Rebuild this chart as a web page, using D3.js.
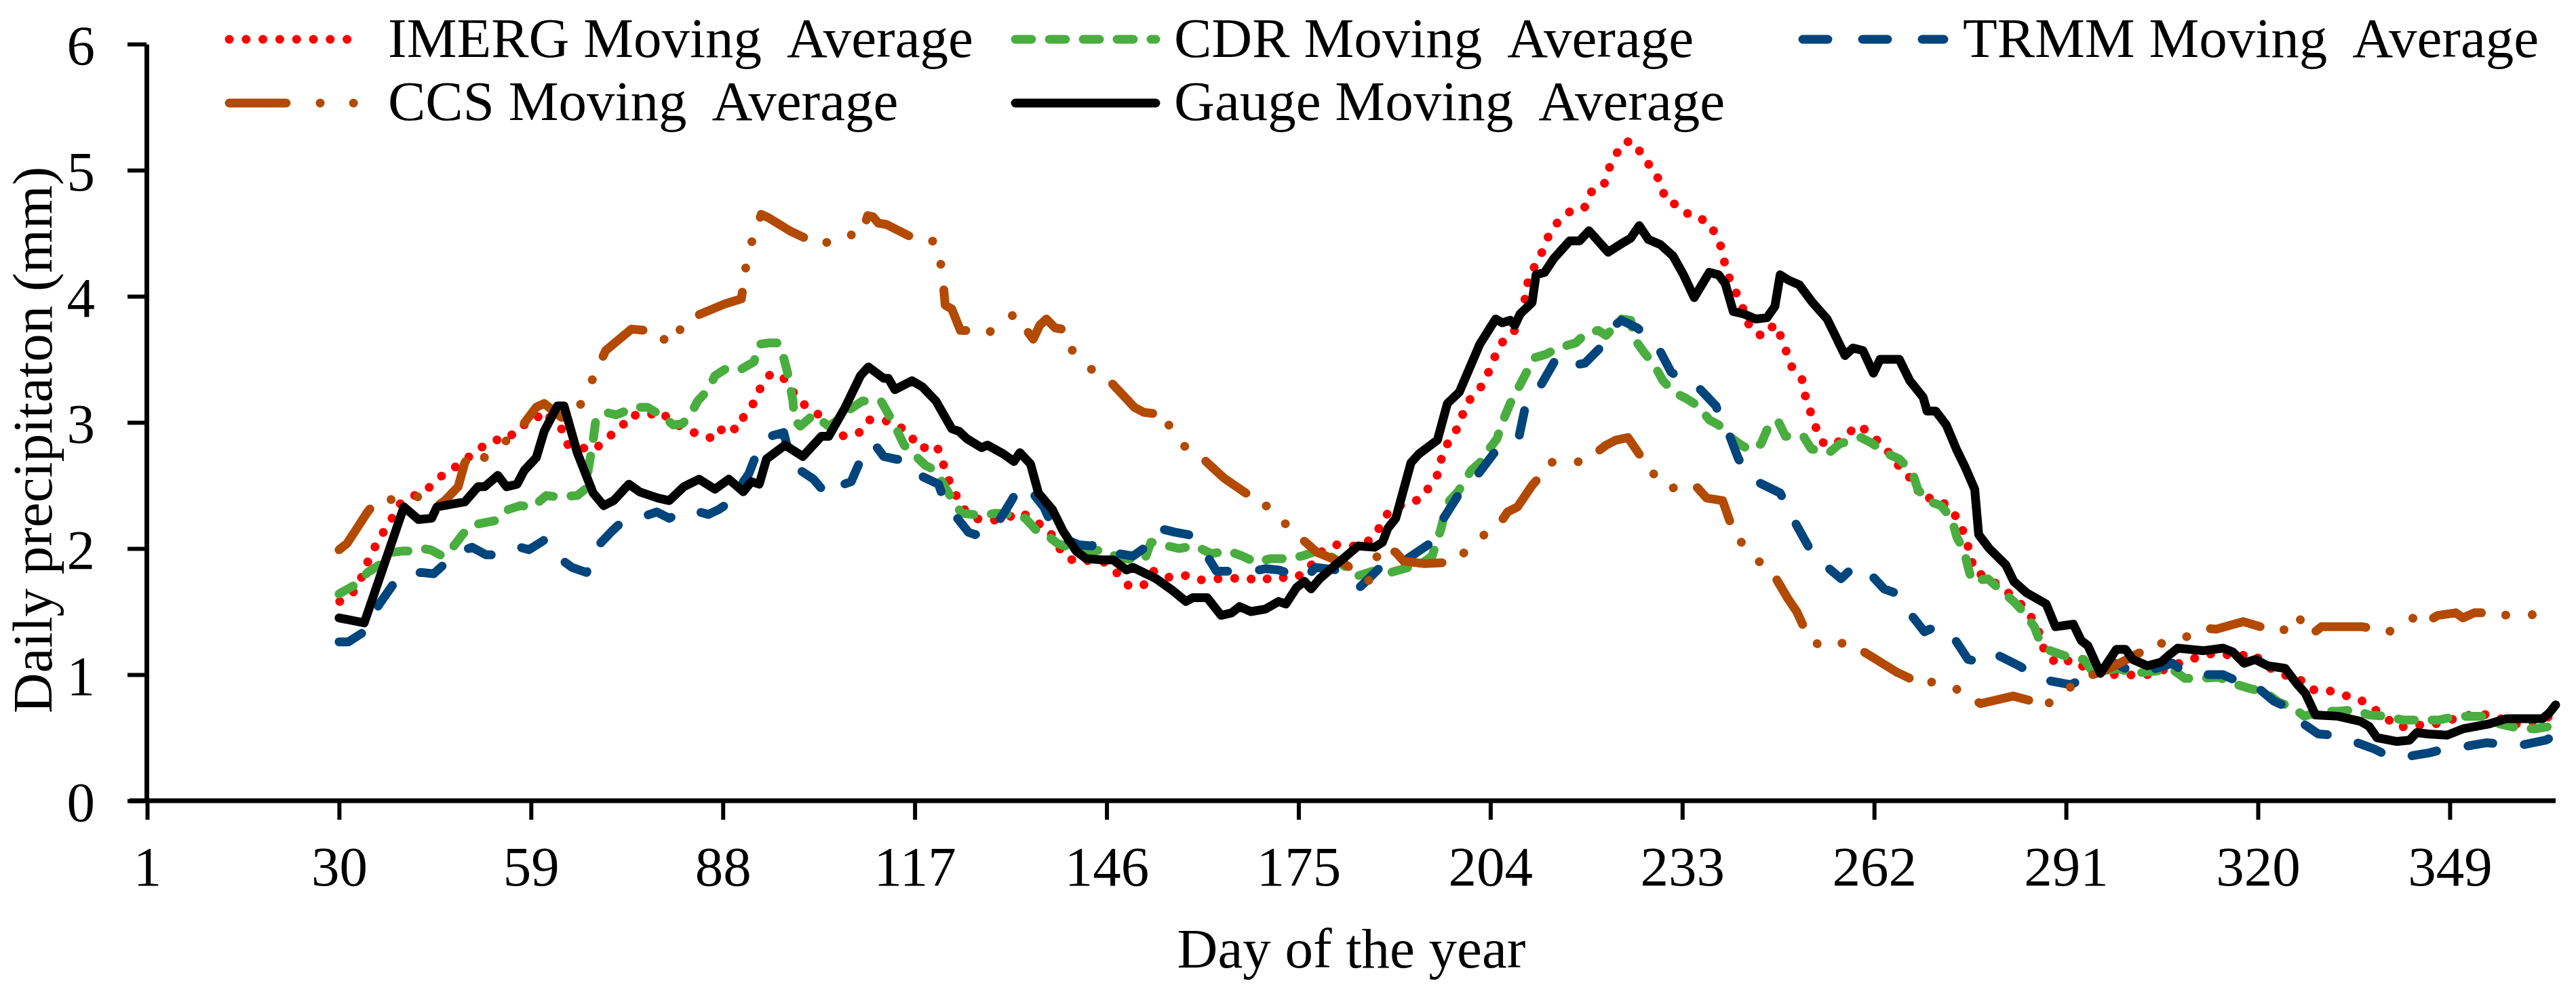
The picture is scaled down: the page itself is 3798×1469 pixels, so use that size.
<!DOCTYPE html>
<html>
<head>
<meta charset="utf-8">
<script src="https://cdn.jsdelivr.net/npm/d3@7"></script>
<style>
  body { margin: 0; background: #fff; }
  svg { display: block; }
  text { font-family: "Liberation Serif", "Times New Roman", serif; fill: #000; }
</style>
</head>
<body>
<script>
// data: [day of year, daily precipitation (mm)]
var imerg = [[30.1,1.58],[32.1,1.65],[33.3,1.76],[34.3,1.89],[35.4,2.01],[36.7,2.13],[38,2.24],[39.3,2.36],[41.4,2.42],[43.8,2.49],[45.6,2.58],[47.4,2.64],[49,2.70],[51.1,2.79],[53.5,2.86],[55.6,2.87],[57.2,2.97],[59.3,3.00],[60.9,3.09],[63.6,2.95],[64.6,2.82],[68.6,2.78],[70.3,2.87],[72.5,2.95],[74,3.06],[76.4,3.05],[78.6,3.09],[80.3,3.00],[82.7,2.94],[85,2.89],[87,2.87],[88.2,2.98],[90.1,2.94],[91.3,3.06],[92.9,3.17],[93.8,3.29],[95.3,3.39],[97.2,3.35],[99.7,3.16],[101.7,3.10],[104,2.98],[106.3,2.89],[108.6,2.92],[110.1,3.02],[112.3,3.02],[114.2,2.98],[116.2,2.92],[117.4,2.80],[118.8,2.80],[120.3,2.82],[121.2,2.69],[122,2.56],[123.1,2.44],[124.1,2.33],[125.9,2.24],[128.4,2.22],[130.8,2.24],[133.1,2.29],[134.9,2.22],[137.1,2.16],[139.6,1.94],[141.6,1.89],[143.9,1.91],[145.7,1.89],[147.7,1.80],[149.4,1.70],[151.6,1.71],[153.1,1.82],[155.1,1.77],[157.6,1.79],[160,1.75],[162,1.76],[164.3,1.76],[166.9,1.77],[169.2,1.74],[171.4,1.78],[173.7,1.76],[175.9,1.80],[178.6,1.98],[180.8,2.03],[182.4,2.02],[184.5,2.02],[186.6,2.10],[187.7,2.22],[188.9,2.31],[191.3,2.36],[193.4,2.39],[194.8,2.49],[196.2,2.60],[196.7,2.74],[197.7,2.85],[199.1,2.96],[200,3.09],[201.1,3.20],[202.9,3.30],[203.9,3.42],[204.9,3.55],[206.2,3.67],[207.7,3.73],[209.3,3.99],[209.7,4.12],[210.7,4.24],[211.8,4.35],[212.8,4.48],[214.2,4.59],[216.2,4.68],[218.2,4.70],[219.3,4.83],[221.1,4.87],[221.8,5.00],[222.9,5.12],[224.4,5.23],[226.1,5.21],[227,5.09],[228.9,5.00],[229.7,4.88],[230.7,4.75],[232.6,4.72],[234.3,4.63],[236.7,4.60],[238.1,4.49],[239.1,4.36],[239.5,4.23],[240.3,4.12],[241.5,3.99],[242.5,3.86],[243.3,3.74],[245.2,3.68],[247,3.78],[248,3.67],[248.8,3.55],[249.7,3.42],[251.1,3.34],[251.6,3.21],[252.4,3.08],[253.2,2.96],[254.3,2.84],[256,2.82],[257.8,2.90],[259.6,2.98],[261.5,2.91],[263.3,2.81],[265,2.72],[266.2,2.61],[268.2,2.53],[269,2.40],[271.5,2.40],[273.5,2.32],[274.9,2.21],[275.8,2.09],[276.5,1.96],[277.1,1.82],[279.1,1.77],[281,1.70],[283.2,1.61],[284.9,1.52],[286.2,1.42],[287.2,1.30],[287.8,1.17],[289.8,1.08],[291.9,1.12],[294,1.05],[296.8,1.00],[300.3,1.00],[302.6,0.99],[305.4,1.03],[307.5,1.08],[309.9,1.12],[312,1.16],[314.5,1.17],[316.6,1.14],[319.2,1.17],[321.3,1.07],[323.5,1.00],[326,0.98],[328,0.88],[330.3,0.88],[332.7,0.84],[335.2,0.81],[337.2,0.74],[339.1,0.67],[341.2,0.58],[343.5,0.60],[346.1,0.60],[348.4,0.63],[351,0.67],[353.5,0.69],[356,0.67],[358.2,0.61],[360.7,0.61],[363.3,0.67],[365,0.65]];

var cdr = [[30,1.64],[32.7,1.72],[34.3,1.81],[36.1,1.87],[38,1.97],[39.6,1.98],[40.9,1.98],[42.5,2.00],[43.8,1.99],[45.6,1.94],[47.2,2.01],[48.8,2.12],[50.6,2.19],[53.5,2.22],[55.6,2.31],[57.4,2.34],[59.3,2.33],[61.3,2.42],[62.9,2.41],[66,2.42],[67.2,2.47],[67.8,2.67],[68.3,2.82],[68.8,3.02],[70.3,3.08],[71.9,3.06],[73.3,3.09],[74.6,3.12],[76.6,3.12],[78.9,3.05],[80.5,2.98],[81.9,2.99],[83.1,3.06],[84.2,3.17],[85.8,3.26],[86.8,3.37],[88.6,3.43],[90.7,3.42],[92.7,3.48],[93.5,3.62],[95,3.63],[96.4,3.63],[97,3.55],[97.8,3.39],[98.6,3.17],[98.8,3.02],[99.7,2.97],[101.7,3.06],[104,2.97],[105.4,3.02],[106.8,3.09],[109.1,3.17],[111.9,3.17],[113.3,3.04],[114.4,2.93],[115.4,2.82],[117.2,2.73],[118.6,2.66],[120.1,2.62],[121.8,2.47],[123,2.36],[124.1,2.28],[127.3,2.26],[129.2,2.28],[132,2.27],[133.7,2.24],[135.3,2.15],[137.1,2.10],[138.6,2.04],[140.2,2.01],[142.9,1.97],[145.3,1.99],[147.7,1.93],[150,1.91],[151.8,1.92],[152.7,2.05],[155.3,2.02],[156.9,2.00],[159.4,2.02],[161.8,1.96],[164.5,1.98],[166.5,1.94],[168.6,1.89],[170.8,1.92],[173.3,1.92],[175.5,1.94],[177.8,1.98],[179.8,1.94],[181,1.90],[183.8,1.78],[186.2,1.82],[188.9,1.81],[191.6,1.85],[193.6,1.88],[195.2,1.94],[196.5,2.15],[197.5,2.36],[199.1,2.45],[201.1,2.62],[202.4,2.68],[203.4,2.76],[205,2.87],[205.8,3.00],[207,3.15],[208.1,3.26],[209.3,3.38],[210.5,3.51],[212.4,3.54],[214.2,3.59],[216.9,3.63],[218.3,3.70],[220.3,3.73],[221.5,3.69],[223.8,3.82],[225.2,3.81],[225.8,3.66],[227.3,3.55],[228.7,3.46],[230.1,3.33],[231.7,3.24],[233.6,3.19],[235.4,3.13],[237.1,3.02],[238.5,2.98],[240.1,2.89],[241.9,2.82],[243.3,2.78],[244.9,2.83],[245.8,2.94],[247.4,3.02],[248.6,2.89],[251.3,2.89],[252.5,2.79],[255.2,2.76],[256.8,2.83],[260,2.88],[261.5,2.84],[264.1,2.75],[265.8,2.71],[267.8,2.60],[268.6,2.47],[270,2.38],[272.1,2.34],[273.7,2.24],[274.5,2.09],[275.6,1.98],[276.2,1.85],[276.8,1.74],[279.2,1.76],[281.1,1.67],[283.1,1.58],[284.7,1.49],[286.2,1.38],[287,1.27],[288.6,1.19],[291.3,1.14],[293.7,1.12],[295.2,1.01],[298.8,1.05],[301.1,1.01],[305,1.03],[307.1,1.04],[309,0.97],[311.3,0.97],[314.1,0.98],[316.2,0.93],[318.8,0.89],[321.1,0.86],[323.2,0.78],[325.3,0.74],[327,0.67],[329.6,0.71],[332.1,0.71],[334.6,0.72],[336.8,0.68],[339.3,0.67],[341.9,0.64],[344.4,0.64],[347.4,0.64],[349.9,0.67],[352,0.67],[354.1,0.67],[356.5,0.61],[359,0.58],[361.8,0.57],[364.3,0.59],[365,0.59]];

var trmm = [[30,1.26],[31.4,1.26],[33.5,1.33],[36.1,1.56],[38.5,1.74],[40.5,1.80],[42.5,1.81],[44.3,1.80],[46.4,1.90],[48.5,1.98],[50.1,2.01],[52.2,1.95],[54.3,1.95],[56,1.97],[57.4,2.01],[58.7,1.99],[60.5,2.05],[61.1,2.07],[63.4,1.92],[65.2,1.85],[67.4,1.81],[69.3,2.03],[71.1,2.13],[72.5,2.20],[74,2.23],[75.8,2.25],[78,2.29],[79.9,2.24],[81.5,2.28],[83.1,2.31],[85.8,2.27],[87.4,2.31],[89.9,2.40],[91.1,2.53],[91.9,2.59],[93.7,2.83],[95.2,2.89],[97.2,2.92],[98.4,2.67],[99.7,2.62],[101.7,2.55],[103,2.47],[104.2,2.42],[105.2,2.49],[107.4,2.53],[109.3,2.76],[110.9,2.83],[112.3,2.73],[114,2.71],[115.4,2.70],[117.8,2.58],[120.6,2.51],[121.6,2.36],[122.4,2.31],[125.1,2.13],[126.1,2.11],[128.8,2.14],[131.4,2.36],[132.6,2.47],[133.9,2.50],[136.5,2.33],[137.8,2.18],[139.5,2.08],[141.8,2.03],[143.7,2.02],[144.7,2.05],[147.7,1.96],[150,1.94],[151.6,2.00],[153.9,2.16],[156.3,2.13],[158.4,2.11],[161.2,1.94],[162.6,1.82],[163.7,1.82],[166,1.82],[168.2,1.82],[170,1.84],[172,1.83],[174.9,1.78],[175.9,1.76],[177.6,1.85],[180.7,1.83],[182.2,1.76],[184.2,1.69],[186,1.78],[187.5,1.86],[189.7,1.87],[191.5,1.92],[194.6,2.03],[196.2,2.13],[196.7,2.22],[199.1,2.42],[200.5,2.51],[202,2.58],[204.6,2.76],[206.2,2.82],[208.3,2.88],[209.3,3.13],[210.5,3.22],[211.8,3.31],[214.2,3.53],[215.8,3.51],[217.3,3.46],[218.3,3.47],[221.5,3.64],[222.8,3.77],[223.8,3.81],[226.2,3.75],[227.7,3.68],[229.3,3.60],[231.3,3.40],[233.2,3.33],[235.2,3.29],[238.1,3.13],[239.1,2.98],[239.9,2.93],[241.5,2.71],[242.9,2.60],[244.3,2.53],[247.8,2.44],[249.4,2.27],[251.7,2.05],[252.9,1.94],[254.1,1.89],[257,1.76],[258.4,1.83],[260.3,1.86],[263.5,1.68],[265.1,1.65],[266.6,1.54],[269.6,1.34],[271.3,1.38],[273.7,1.32],[276.2,1.12],[278.2,1.10],[280.1,1.17],[283.9,1.07],[285.8,1.01],[287.6,0.96],[291.7,0.92],[293.3,0.96],[294.7,0.96],[298.4,1.09],[300.7,1.03],[302.3,1.01],[307.1,1.09],[308.8,1.02],[310.3,1.00],[314.7,1.00],[316.4,0.96],[319,0.94],[322.4,0.79],[324.1,0.75],[325.5,0.66],[329.1,0.53],[331.3,0.52],[333.4,0.49],[337.6,0.41],[339.5,0.36],[341.4,0.34],[345.9,0.38],[348.2,0.41],[350.1,0.42],[354.6,0.46],[356.7,0.45],[358.8,0.43],[363.5,0.48],[365,0.52]];

var ccs = [[30,1.99],[31.2,2.04],[32.7,2.16],[34.3,2.29],[35.4,2.36],[35.9,2.36],[38,2.39],[40.2,2.41],[41.5,2.42],[43,2.38],[44.6,2.33],[46,2.38],[48,2.49],[49,2.68],[50.1,2.76],[51.9,2.72],[53.8,2.79],[57.2,2.94],[59.8,3.12],[61,3.15],[63.6,3.04],[64.8,3.04],[66.2,3.11],[68.2,3.33],[70.3,3.57],[74.2,3.74],[78,3.72],[80,3.61],[81.1,3.71],[82.3,3.78],[83.3,3.79],[84.2,3.85],[88.3,3.94],[90.8,3.98],[91.5,4.24],[91.9,4.37],[92.9,4.50],[93.8,4.65],[95,4.62],[98.1,4.52],[102.1,4.42],[106.6,4.44],[108,4.52],[109.1,4.51],[109.9,4.64],[110.7,4.63],[111.5,4.58],[112.7,4.57],[116.5,4.47],[120.4,4.43],[121.2,4.17],[121.6,3.93],[122.6,3.90],[123.9,3.73],[128.4,3.72],[132.1,3.86],[134.9,3.66],[135.9,3.77],[136.9,3.82],[138.2,3.75],[139.2,3.74],[140,3.62],[142.9,3.45],[146.8,3.31],[150.2,3.12],[151.6,3.08],[153.1,3.07],[154.1,3.09],[155.3,2.99],[156.7,2.85],[160.6,2.71],[163.7,2.56],[167.3,2.43],[168.8,2.36],[171.2,2.32],[172,2.25],[173.9,2.15],[177.8,1.97],[181.9,1.88],[185.8,1.74],[186.4,1.89],[187.7,2.02],[189.7,1.97],[190.9,1.90],[194,1.88],[197.8,1.89],[201.6,2.02],[203.4,2.13],[205.2,2.18],[206.6,2.29],[208.1,2.33],[210.3,2.50],[213.6,2.70],[216.4,2.70],[217.9,2.68],[219.5,2.74],[221.5,2.82],[223,2.86],[224.8,2.88],[227.5,2.67],[230.5,2.47],[234.8,2.51],[236.7,2.40],[239.1,2.38],[240.3,2.20],[242.9,1.96],[246.4,1.83],[249,1.60],[250.3,1.50],[251.7,1.34],[252.9,1.27],[254.1,1.21],[258,1.26],[262,1.13],[265.4,1.02],[267.8,0.96],[270.2,0.92],[270.9,0.95],[272.5,0.91],[274.3,0.89],[278.1,0.77],[283,0.83],[286.6,0.78],[288,0.74],[289,0.82],[290.5,0.85],[292.1,0.92],[294.1,0.98],[298,1.06],[302,1.17],[305,1.25],[307.1,1.24],[309.2,1.30],[311.8,1.37],[313.7,1.36],[317.8,1.42],[322.3,1.35],[324.9,1.36],[326,1.47],[327.9,1.31],[329.6,1.38],[331,1.38],[335.7,1.38],[340.5,1.34],[344.6,1.49],[345.9,1.43],[347.2,1.47],[349.9,1.49],[351,1.45],[352.7,1.49],[355.6,1.49],[359.7,1.45],[363.9,1.51],[365,1.52]];

var gauge = [[30,1.45],[33.8,1.41],[39.8,2.33],[42,2.23],[44,2.24],[44.8,2.33],[49,2.37],[51,2.49],[52,2.49],[54,2.58],[55.3,2.49],[56.9,2.51],[58,2.62],[59.8,2.72],[61,2.93],[63,3.13],[64,3.13],[66,2.76],[68.4,2.44],[70,2.34],[71.5,2.38],[73.8,2.51],[75.4,2.45],[78.2,2.40],[79.9,2.38],[82.1,2.49],[84.4,2.55],[86.8,2.47],[88.9,2.55],[91.1,2.45],[92.3,2.53],[93.5,2.51],[94.6,2.71],[97.4,2.82],[100.1,2.73],[102.9,2.89],[104,2.89],[106.4,3.11],[108.8,3.37],[110,3.44],[112.3,3.35],[113,3.35],[114,3.26],[116.6,3.33],[118.2,3.28],[120.2,3.17],[122.6,2.95],[123.7,2.93],[124.9,2.87],[127.1,2.80],[128,2.82],[130.4,2.75],[132,2.69],[132.9,2.76],[134.5,2.67],[135.7,2.44],[137.8,2.31],[139.4,2.14],[141.4,1.98],[142.9,1.92],[145.3,1.91],[147,1.91],[149,1.83],[150,1.85],[153.5,1.76],[155.9,1.67],[158,1.58],[159,1.61],[161.2,1.61],[163.3,1.47],[164.9,1.49],[166.1,1.54],[167.8,1.50],[170,1.52],[172,1.58],[173.1,1.56],[174.7,1.69],[175.9,1.74],[176.9,1.68],[178.2,1.76],[180.6,1.87],[182.2,1.94],[184,2.02],[186.5,2.01],[187.7,2.05],[188.5,2.16],[189.7,2.24],[192,2.68],[193.2,2.75],[196,2.86],[197.5,3.15],[199.3,3.24],[202.4,3.62],[204.8,3.82],[205.8,3.79],[207,3.81],[207.7,3.77],[208.5,3.86],[210.3,3.95],[210.9,4.17],[212.2,4.19],[213.6,4.30],[216,4.44],[217.5,4.44],[218.9,4.52],[221.8,4.35],[224.2,4.43],[225.2,4.46],[226.5,4.56],[227.9,4.45],[229.7,4.41],[231.6,4.32],[233.2,4.17],[234.8,3.99],[237.1,4.19],[238.5,4.17],[239.5,4.10],[240.7,3.88],[242.3,3.86],[244.1,3.82],[245.8,3.83],[247,3.92],[247.8,4.17],[249,4.13],[250.7,4.09],[252.7,3.95],[254.9,3.82],[257.6,3.53],[258.8,3.59],[260.3,3.57],[261.9,3.39],[262.9,3.50],[265.8,3.50],[267.4,3.33],[269.4,3.20],[270,3.09],[271.3,3.09],[272.9,2.98],[274.5,2.78],[275.8,2.64],[277.2,2.47],[277.8,2.11],[279.4,2.00],[281.9,1.87],[283.1,1.74],[285,1.65],[288,1.56],[289.4,1.38],[292.1,1.40],[293.3,1.27],[294.3,1.23],[296.2,1.01],[298.6,1.20],[300,1.20],[301.1,1.12],[303.3,1.07],[305.4,1.10],[306.7,1.16],[307.9,1.21],[311.8,1.19],[314.7,1.21],[316.2,1.18],[317.9,1.09],[319.6,1.12],[321.5,1.07],[324.1,1.05],[326,0.92],[327.2,0.85],[328.7,0.68],[332.1,0.67],[335.5,0.63],[336.8,0.59],[338,0.50],[341,0.47],[342.9,0.48],[344,0.54],[345.7,0.53],[348.6,0.52],[351,0.57],[355,0.61],[357.5,0.65],[363,0.65],[364.1,0.70],[365,0.76]];

var xTicks = [1, 30, 59, 88, 117, 146, 175, 204, 233, 262, 291, 320, 349];
var yTicks = [0, 1, 2, 3, 4, 5, 6];

var width = 3798, height = 1469;
var plotLeft = 217, plotRight = 3768, plotTop = 65, plotBottom = 1181;

var svg = d3.select("body").append("svg")
    .attr("width", width)
    .attr("height", height);

var x = d3.scaleLinear().domain([1, 365]).range([plotLeft, plotRight]);
var y = d3.scaleLinear().domain([0, 6]).range([plotBottom, plotTop]);

// axes
var xAxis = svg.append("g")
    .attr("transform", "translate(0," + plotBottom + ")")
    .call(d3.axisBottom(x).tickValues(xTicks).tickSize(28).tickSizeOuter(0).tickFormat(d3.format("d")));
xAxis.selectAll("text").attr("y", 125).attr("dy", null);

var yAxis = svg.append("g")
    .attr("transform", "translate(" + (plotLeft - 1) + ",0)")
    .call(d3.axisLeft(y).tickValues(yTicks).tickSize(28).tickSizeOuter(0).tickFormat(d3.format("d")));
yAxis.selectAll("text").attr("x", -76).attr("dy", "0.35em");

svg.selectAll(".domain").attr("stroke", "#000").attr("stroke-width", 7);
svg.selectAll(".tick line").attr("stroke", "#000").attr("stroke-width", 6);
svg.selectAll(".tick text").style("font-size", "83px").style("font-family", "Liberation Serif, serif").attr("fill", "#000");
xAxis.select(".domain").attr("d", "M" + (plotLeft - 26) + ",0H" + plotRight);

// series
var series = [
  {name: "IMERG Moving  Average", data: imerg, color: "#ff0000", dash: "0.1 24.5", legendDash: "0.1 24.7"},
  {name: "CDR Moving  Average", data: cdr, color: "#4aad3f", dash: "24 26", legendDash: "24 26"},
  {name: "TRMM Moving  Average", data: trmm, color: "#00457c", dash: "37 47", legendDash: "37 51"},
  {name: "CCS Moving  Average", data: ccs, color: "#b34a02", dash: "76 36 0.1 40 0.1 38", legendDash: "84 50 0.1 49 0.1 200"},
  {name: "Gauge Moving  Average", data: gauge, color: "#000000", dash: null, legendDash: null}
];

var line = d3.line()
    .x(function(d) { return x(d[0]); })
    .y(function(d) { return y(d[1]); });

svg.selectAll(".series")
    .data(series)
  .enter().append("path")
    .attr("class", "series")
    .attr("d", function(d) { return line(d.data); })
    .attr("fill", "none")
    .attr("stroke", function(d) { return d.color; })
    .attr("stroke-width", 13)
    .attr("stroke-linecap", "round")
    .attr("stroke-linejoin", "round")
    .attr("stroke-dasharray", function(d) { return d.dash; });

// legend (two rows, three columns)
var legendPos = [
  {lx: 338, tx: 572, ly: 58, ty: 84, len: 198},
  {lx: 1497, tx: 1731, ly: 58, ty: 84, len: 207},
  {lx: 2658, tx: 2894, ly: 58, ty: 84, len: 208},
  {lx: 338, tx: 572, ly: 152, ty: 177, len: 186},
  {lx: 1497, tx: 1731, ly: 152, ty: 177, len: 207}
];

var legend = svg.selectAll(".legend")
    .data(series)
  .enter().append("g")
    .attr("class", "legend");

legend.append("line")
    .attr("x1", function(d, i) { return legendPos[i].lx; })
    .attr("x2", function(d, i) { return legendPos[i].lx + legendPos[i].len; })
    .attr("y1", function(d, i) { return legendPos[i].ly; })
    .attr("y2", function(d, i) { return legendPos[i].ly; })
    .attr("stroke", function(d) { return d.color; })
    .attr("stroke-width", 13)
    .attr("stroke-linecap", "round")
    .attr("stroke-dasharray", function(d) { return d.legendDash; });

legend.append("text")
    .attr("x", function(d, i) { return legendPos[i].tx; })
    .attr("y", function(d, i) { return legendPos[i].ty; })
    .attr("xml:space", "preserve")
    .style("white-space", "pre")
    .style("font-size", "83px")
    .text(function(d) { return d.name; });

// axis titles
svg.append("text")
    .attr("x", (plotLeft + plotRight) / 2)
    .attr("y", 1427)
    .attr("text-anchor", "middle")
    .style("font-size", "83px")
    .text("Day of the year");

svg.append("text")
    .attr("transform", "translate(76,649) rotate(-90)")
    .attr("text-anchor", "middle")
    .style("font-size", "83px")
    .text("Daily precipitaton (mm)");
</script>
</body>
</html>
